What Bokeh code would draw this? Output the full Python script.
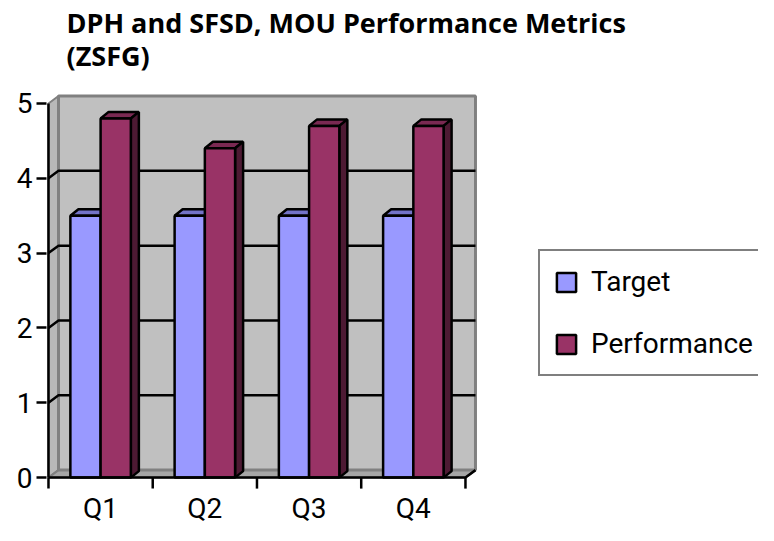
from bokeh.plotting import figure
from bokeh.models import Range1d, FixedTicker, Legend, LegendItem
from bokeh.core.properties import value
from bokeh.embed import file_html
from bokeh.resources import INLINE

# ---- data ----
categories = ["Q1", "Q2", "Q3", "Q4"]
target = [3.5, 3.5, 3.5, 3.5]
performance = [4.8, 4.4, 4.7, 4.7]
y_ticks = [0, 1, 2, 3, 4, 5]
series_names = ["Target", "Performance"]

TITLE = "DPH and SFSD, MOU Performance Metrics\n(ZSFG)"
LABEL_FONT = "Roboto"
LABEL_SIZE = "28px"

# ---- style / geometry ----
n = len(categories)
Y_MAX = 5
BAR_W = 0.29
BDX, BDY = 0.077, 0.087   # bar depth offset
WDX, WDY = 0.096, 0.10    # wall depth offset
EDGE_W = 2.5

colors = {
    "Target": ("#9999FF", "#7373C8", "#4D4D80"),
    "Performance": ("#993366", "#7A2952", "#4D1A33"),
}

p = figure(width=758, height=525, output_backend="svg", toolbar_location=None,
           x_range=Range1d(-0.019, 6.811), y_range=Range1d(-0.64, 5.32),
           x_axis_location=None, y_axis_location="left",
           min_border_left=46, min_border_right=0, min_border_bottom=0,
           min_border_top=78, title=TITLE)
p.outline_line_color = None
p.xgrid.visible = False
p.ygrid.visible = False

p.title.text_font = "Open Sans"
p.title.text_font_style = "bold"
p.title.text_font_size = "27px"
p.title.text_color = "black"
p.title.text_line_height = 0.9
p.title.align = "left"
p.title.vertical_align = "top"
p.title.offset = 20
p.title.standoff = 7

ax = p.yaxis[0]
ax.ticker = FixedTicker(ticks=y_ticks)
ax.axis_line_color = None
ax.major_tick_out = 10
ax.major_tick_in = 0
ax.major_tick_line_width = 2.5
ax.major_tick_line_color = "black"
ax.minor_tick_line_color = None
ax.major_label_text_font = LABEL_FONT
ax.major_label_text_font_size = LABEL_SIZE
ax.major_label_text_color = "black"
ax.major_label_standoff = 4

# ---- walls & floor ----
p.patch([0, WDX, WDX, 0], [0, WDY, Y_MAX + WDY, Y_MAX],
        fill_color="#B8B8B8", line_color="#808080", line_width=2)
p.patch([0, n, n + WDX, WDX], [0, 0, WDY, WDY],
        fill_color="#A6A6A6", line_color="#808080", line_width=2)
p.quad(left=WDX, right=n + WDX, bottom=WDY, top=Y_MAX + WDY,
       fill_color="#C0C0C0", line_color="#808080", line_width=3)

grid_vals = [t for t in y_ticks if 0 < t < Y_MAX]
p.multi_line(xs=[[0, WDX, n + WDX] for _ in grid_vals],
             ys=[[g, g + WDY, g + WDY] for g in grid_vals],
             line_color="black", line_width=EDGE_W)

# ---- bars (3D) ----
front_renderers = {}
for s_idx, (name, vals) in enumerate(zip(series_names, [target, performance])):
    front, top_c, side_c = colors[name]
    lefts = [i + 0.5 - BAR_W + s_idx * BAR_W for i in range(n)]
    rights = [l + BAR_W for l in lefts]
    top_xs = [[l, r, r + BDX, l + BDX] for l, r in zip(lefts, rights)]
    top_ys = [[v, v, v + BDY, v + BDY] for v in vals]
    side_xs = [[r, r + BDX, r + BDX, r] for r in rights]
    side_ys = [[0, BDY, v + BDY, v] for v in vals]
    p.patches(top_xs, top_ys, fill_color=top_c, line_color="black", line_width=EDGE_W)
    p.patches(side_xs, side_ys, fill_color=side_c, line_color="black", line_width=EDGE_W)
    front_renderers[name] = p.quad(left=lefts, right=rights, bottom=0, top=vals,
                                   fill_color=front, line_color="black", line_width=EDGE_W)

# ---- axes lines, x ticks, x labels ----
p.line([0, 0], [0, Y_MAX], line_color="black", line_width=2.5)
p.line([0, n, n + WDX], [0, 0, WDY], line_color="black", line_width=2.5)
p.segment(x0=list(range(n + 1)), y0=0, x1=list(range(n + 1)), y1=-0.147,
          line_color="black", line_width=2.5)
p.text(x=[i + 0.5 for i in range(n)], y=-0.41, text=categories,
       text_font=value(LABEL_FONT), text_font_size=LABEL_SIZE, text_color="black",
       text_align="center", text_baseline="alphabetic")

# ---- legend ----
legend = Legend(items=[LegendItem(label=nm, renderers=[front_renderers[nm]]) for nm in series_names],
                location=(492, 149), orientation="vertical",
                border_line_color="black", border_line_width=2,
                background_fill_color="white", background_fill_alpha=1,
                label_text_font=LABEL_FONT, label_text_font_size=LABEL_SIZE,
                label_text_color="black",
                glyph_width=24, glyph_height=24, label_standoff=13,
                spacing=29, padding=14, margin=0)
p.add_layout(legend)

open("out.html", "w").write(file_html(p, INLINE))
